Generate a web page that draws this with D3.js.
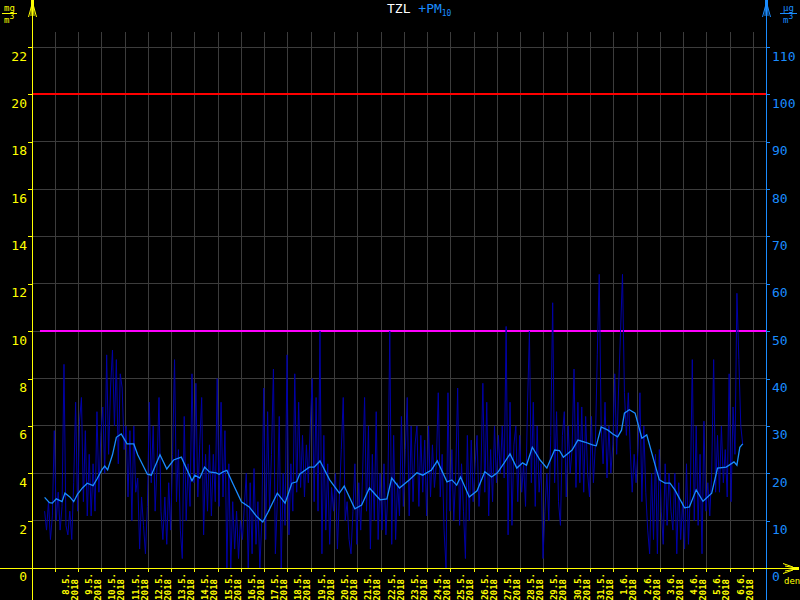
<!DOCTYPE html>
<html><head><meta charset="utf-8">
<script src="https://cdn.jsdelivr.net/npm/d3@7"></script>
<style>body{margin:0;background:#000}svg{display:block;background:#000}</style>
</head><body>
<svg id="c" width="800" height="600"></svg>
<script>
// ---- data ----
const axisStart = "2018-05-07T00:00";
const axisEnd = "2018-06-07T13:00";
const rawStart = "2018-05-07T13:00";
const rawStepHours = 2;
// PM10 measured values (µg/m3), every 2 hours
const rawValues = [
12,8,14,6,11,29,10,16,8,13,43,9,
7,12,6,18,35,12,31,36,14,29,11,24,
11,22,12,33,16,28,34,20,45,24,38,46,
30,44,22,41,38,25,30,15,29,10,30,16,
19,4,15,9,3,13,35,18,30,12,22,36,
12,6,15,5,18,8,24,44,14,25,8,2,
32,10,22,13,41,18,39,15,26,36,7,24,
12,26,11,24,14,40,13,35,15,29,0,22,
0,14,4,12,2,10,6,13,20,0,18,3,
21,5,14,0,10,38,6,33,12,24,42,3,
14,32,0,20,9,45,7,22,12,41,16,35,
17,28,15,26,18,30,40,14,36,12,50,3,
28,8,22,5,17,12,20,4,15,25,36,10,
14,6,3,12,22,5,18,8,20,36,12,30,
4,24,10,33,6,20,8,22,7,16,50,5,
28,6,18,11,32,13,25,36,11,30,14,26,
30,13,28,16,27,11,30,15,26,17,22,37,
15,24,8,0,37,12,25,10,20,38,9,22,
12,2,28,10,27,14,22,28,13,20,39,16,
35,11,25,14,30,18,28,20,30,19,51,7,
35,9,26,30,14,28,16,22,13,34,50,18,
35,13,30,16,22,2,12,20,10,28,56,18,
33,14,9,28,33,15,30,20,25,42,17,35,
18,34,16,32,20,15,32,18,26,45,62,30,
22,35,19,30,20,26,41,24,38,50,62,37,
28,37,25,16,24,18,25,37,14,30,16,8,
3,20,6,24,3,25,12,5,22,9,20,12,
8,20,3,18,6,14,4,22,5,16,44,10,
30,9,24,3,31,12,18,11,20,44,16,28,
16,30,18,25,15,41,14,34,24,58,44,30,
26];
// PM10 moving average (µg/m3): hours after rawStart, value
const smoothHours = [0,5,8,12,18,21,26,30,34,39,44,50,54,59,62,65,70,74,79,85,92,96,106,110,119,126,133,141,152,155,160,165,170,177,180,184,188,194,203,211,219,225,230,240,248,255,260,263,273,278,284,294,304,309,320,327,335,346,353,358,366,376,384,390,399,405,415,420,425,429,438,446,454,461,467,474,480,487,493,497,503,511,518,526,531,535,544,550,557,565,569,574,581,586,591,595,598,603,609,616,621,629,634,640,645,650,660,665,672,679,688,694,703,711,714,717,720];
const smoothValues = [14.9,13.8,13.7,14.6,14.0,15.8,15.0,14.0,15.6,16.9,17.9,17.4,18.8,20.7,21.5,20.7,23.9,27.6,28.3,26.2,26.2,23.9,19.8,19.6,23.9,20.9,22.8,23.4,18.4,19.6,19.0,21.3,20.3,20.1,19.8,20.3,20.6,17.9,14.0,12.9,10.8,9.7,11.6,15.8,13.7,17.9,18.2,19.8,21.3,21.3,22.6,18.6,15.8,17.3,12.5,13.3,16.9,14.4,14.6,19.0,16.9,18.6,20.1,19.6,20.7,22.6,18.2,18.6,17.5,19.2,15.0,16.3,20.3,19.2,20.1,22.2,24.1,21.1,22.2,21.7,25.5,22.8,21.1,24.9,24.8,23.4,24.9,27.0,26.6,26.0,25.8,29.8,29.1,28.3,27.7,29.1,32.7,33.4,32.7,27.4,28.1,22.2,18.6,17.9,17.9,16.5,12.7,12.9,16.5,14.1,15.8,21.1,21.3,22.4,21.7,25.5,26.2];
const leftTicks = [0,2,4,6,8,10,12,14,16,18,20,22];
const rightTicks = [0,10,20,30,40,50,60,70,80,90,100,110];
const dayLabels = ["8.5.","9.5.","10.5.","11.5.","12.5.","13.5.","14.5.","15.5.","16.5.","17.5.","18.5.","19.5.","20.5.","21.5.","22.5.","23.5.","24.5.","25.5.","26.5.","27.5.","28.5.","29.5.","30.5.","31.5.","1.6.","2.6.","3.6.","4.6.","5.6.","6.6."];
const yearLabel = "2018";
const limitRed = 100;     // µg/m3
const limitMagenta = 50;  // µg/m3
const leftMax = 22, rightMax = 110;

// ---- drawing ----
const svg = d3.select("#c");
const YEL = "#ffff00", BLUE = "#1a8cff", GRID = "#3c3c3c";
const FONT = "'DejaVu Sans Mono', 'Liberation Mono', monospace";
const parse = d3.timeParse("%Y-%m-%dT%H:%M");
const x = d3.scaleTime().domain([parse(axisStart), parse(axisEnd)]).range([32, 766]);
const yL = d3.scaleLinear().domain([0, leftMax]).range([568, 47]);
const yR = d3.scaleLinear().domain([0, rightMax]).range([568, 47]);
const t0 = parse(rawStart);
const dayDates = dayLabels.map(s => { const p = s.split("."); return new Date(2018, +p[1]-1, +p[0]); });
const tickDates = dayDates.concat([d3.timeDay.offset(dayDates[dayDates.length-1], 1)]);
const px = v => Math.floor(v) + 0.5;

// grid
const g = svg.append("g").attr("shape-rendering","crispEdges");
g.selectAll("line.v").data(tickDates).join("line")
  .attr("x1", d => px(x(d))).attr("x2", d => px(x(d)))
  .attr("y1", 32).attr("y2", 568).attr("stroke", GRID);
g.selectAll("line.h").data(leftTicks.filter(d => d > 0)).join("line")
  .attr("x1", 32).attr("x2", 766)
  .attr("y1", d => px(yL(d))).attr("y2", d => px(yL(d))).attr("stroke", GRID);

// limit lines
svg.append("line").attr("x1",32).attr("x2",766)
  .attr("y1", Math.round(yR(limitRed))).attr("y2", Math.round(yR(limitRed)))
  .attr("stroke","#ff0000").attr("stroke-width",2).attr("shape-rendering","crispEdges");
svg.append("line").attr("x1",40).attr("x2",766)
  .attr("y1", Math.round(yR(limitMagenta))).attr("y2", Math.round(yR(limitMagenta)))
  .attr("stroke","#ff00ff").attr("stroke-width",2).attr("shape-rendering","crispEdges");

// data lines
const raw = rawValues.map((v,i) => ({t: d3.timeHour.offset(t0, i*rawStepHours), v}));
const smooth = smoothHours.map((h,i) => ({t: d3.timeHour.offset(t0, h), v: smoothValues[i]}));
const line = d3.line().x(d => x(d.t)).y(d => yR(d.v));
svg.append("path").datum(raw).attr("d", line).attr("fill","none")
  .attr("stroke","#0000a8").attr("stroke-width",1);
svg.append("path").datum(smooth).attr("d", line).attr("fill","none")
  .attr("stroke", BLUE).attr("stroke-width",1.3);

// left axis
const ax = svg.append("g").attr("transform","translate(32,0)")
  .call(d3.axisLeft(yL).tickValues(leftTicks).tickSize(4).tickFormat(d3.format("d")));
ax.select(".domain").remove();
ax.selectAll("line").attr("stroke", YEL).attr("shape-rendering","crispEdges");
ax.selectAll("text").attr("fill", YEL).attr("x",-5).attr("dy", d => d === 0 ? 12 : 13)
  .attr("font-family", FONT).attr("font-size", 13);
// right axis
const axr = svg.append("g").attr("transform","translate(766,0)")
  .call(d3.axisRight(yR).tickValues(rightTicks).tickSize(4).tickFormat(d3.format("d")));
axr.select(".domain").remove();
axr.selectAll("line").attr("stroke", BLUE).attr("shape-rendering","crispEdges");
axr.selectAll("text").attr("fill", BLUE).attr("x",6).attr("dy", d => d === 0 ? 12 : 13)
  .attr("font-family", FONT).attr("font-size", 13);
// bottom axis
const axb = svg.append("g").attr("transform","translate(0,568)")
  .call(d3.axisBottom(x).tickValues(tickDates).tickSize(4).tickFormat(""));
axb.select(".domain").remove();
axb.selectAll("line").attr("stroke", YEL).attr("shape-rendering","crispEdges")
  .attr("transform", null);
axb.selectAll(".tick").attr("transform", d => `translate(${px(x(d))},0)`);

// axis lines
svg.append("line").attr("x1",px(32)).attr("x2",px(32)).attr("y1",0).attr("y2",600)
  .attr("stroke",YEL).attr("shape-rendering","crispEdges");
svg.append("line").attr("x1",px(766)).attr("x2",px(766)).attr("y1",0).attr("y2",600)
  .attr("stroke",BLUE).attr("shape-rendering","crispEdges");
svg.append("line").attr("x1",0).attr("x2",796).attr("y1",px(568)).attr("y2",px(568))
  .attr("stroke",YEL).attr("shape-rendering","crispEdges");

// arrows
function vArrow(cx, col){
  svg.append("rect").attr("x",cx-1).attr("y",0).attr("width",3).attr("height",6).attr("fill",col);
  svg.append("path").attr("d",`M${cx-0.5},6 L${cx-3.5},17 M${cx+1.5},6 L${cx+4.5},17 M${cx-0.5},6 L${cx-1},16 M${cx+1.5},6 L${cx+2},16`)
    .attr("stroke",col).attr("fill","none");
}
vArrow(32, YEL); vArrow(766, BLUE);
svg.append("rect").attr("x",793).attr("y",567).attr("width",6).attr("height",3).attr("fill",YEL);
svg.append("path").attr("d","M783,563.5 L793,567 M783,573.5 L793,570 M785,566 L793,567.5 M785,571 L793,569.5")
  .attr("stroke",YEL).attr("fill","none");
svg.append("text").attr("x",784).attr("y",584).attr("fill",YEL)
  .attr("font-family",FONT).attr("font-size",9).text("den");

// day labels
const lab = svg.append("g").attr("font-family",FONT).attr("font-size",9).attr("fill",YEL).attr("font-weight","bold");
dayDates.forEach((d,i) => {
  const xx = px(x(d));
  lab.append("text").attr("transform",`translate(${xx+13},573) rotate(-90)`)
    .attr("text-anchor","end").text(dayLabels[i]);
  lab.append("text").attr("transform",`translate(${xx+22},579) rotate(-90)`)
    .attr("text-anchor","end").text(yearLabel);
});

// units
function unit(x0, top, col, lx1, lx2){
  svg.append("text").attr("x",x0).attr("y",11).attr("fill",col).attr("font-family",FONT).attr("font-size",9).text(top);
  svg.append("line").attr("x1",lx1).attr("x2",lx2).attr("y1",13.5).attr("y2",13.5).attr("stroke",col);
  const t = svg.append("text").attr("x",x0).attr("y",23).attr("fill",col).attr("font-family",FONT).attr("font-size",9);
  t.append("tspan").text("m");
  t.append("tspan").attr("dy",-4).attr("font-size",8).text("3");
}
unit(4, "mg", YEL, 2, 17);
unit(783, "µg", BLUE, 780, 797);

// title
const tt = svg.append("text").attr("x",387).attr("y",13).attr("font-family",FONT).attr("font-size",13);
tt.append("tspan").attr("fill","#ffffff").text("TZL ");
tt.append("tspan").attr("fill",BLUE).text("+PM");
tt.append("tspan").attr("fill",BLUE).attr("font-size",8).attr("dy",3).text("10");
</script>
</body></html>
